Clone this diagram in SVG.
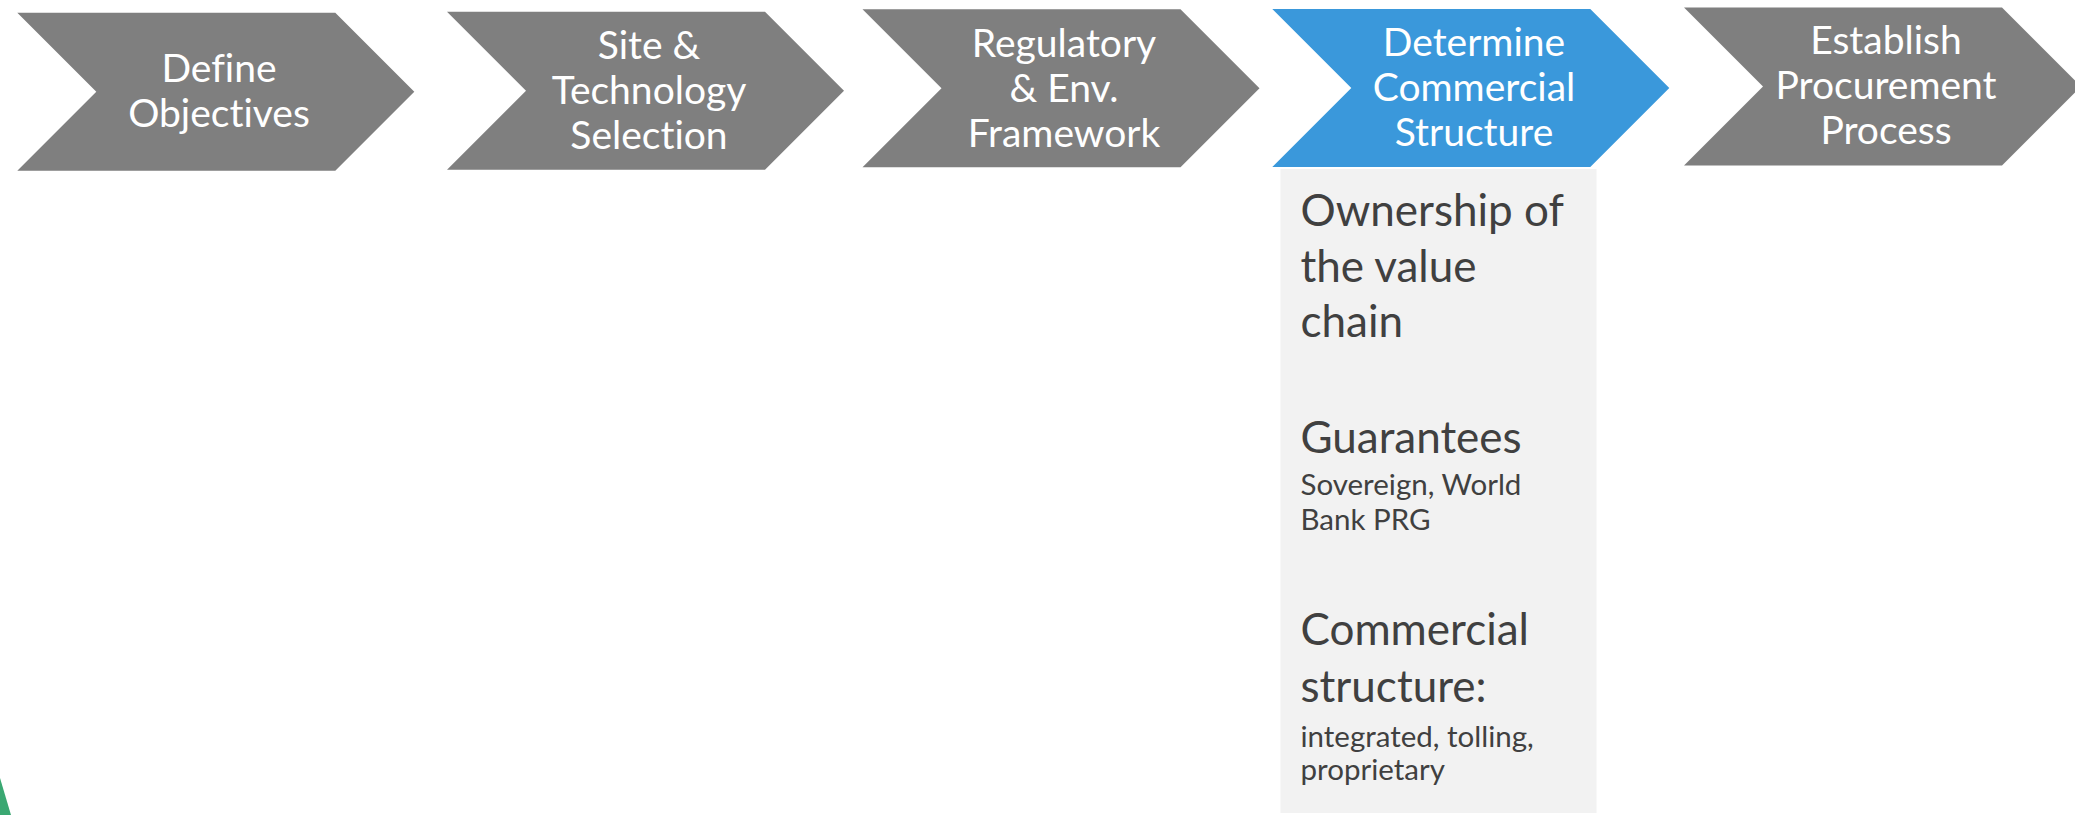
<svg xmlns="http://www.w3.org/2000/svg" width="2075" height="815" viewBox="0 0 2075 815">
<style>
.chev{fill:#7f7f7f}
.blue{fill:#3a98db}
text{font-variant-ligatures:none;font-feature-settings:"liga" 0,"clig" 0}
.ct{font-family:Lato,"Open Sans","Liberation Sans",sans-serif;font-size:39px;fill:#ffffff;text-anchor:middle}
.pt{font-family:Lato,"Open Sans","Liberation Sans",sans-serif;fill:#404040}
.big{font-size:44px}
.small{font-size:29.5px}
</style>
<rect width="2075" height="815" fill="#ffffff"/>
<g id="step1">
<polygon class="chev" points="17.3,12.7 335.3,12.7 414.3,91.7 335.3,170.7 17.3,170.7 96.3,91.7"/>
<text class="ct" x="219" y="82">Define</text>
<text class="ct" x="219" y="127">Objectives</text>
</g>
<g id="step2">
<polygon class="chev" points="447,11.7 765,11.7 844,90.7 765,169.7 447,169.7 526,90.7"/>
<text class="ct" x="649" y="59">Site &amp;</text>
<text class="ct" x="649" y="104">Technology</text>
<text class="ct" x="649" y="149">Selection</text>
</g>
<g id="step3">
<polygon class="chev" points="862.5,9.3 1180.5,9.3 1259.5,88.3 1180.5,167.3 862.5,167.3 941.5,88.3"/>
<text class="ct" x="1064" y="56.5">Regulatory</text>
<text class="ct" x="1064" y="101.5">&amp; Env.</text>
<text class="ct" x="1064" y="146.5">Framework</text>
</g>
<g id="step4">
<polygon class="blue" points="1272.3,9 1590.3,9 1669.3,88 1590.3,167 1272.3,167 1351.3,88"/>
<text class="ct" x="1474" y="56">Determine</text>
<text class="ct" x="1474" y="101">Commercial</text>
<text class="ct" x="1474" y="146">Structure</text>
</g>
<g id="step5">
<polygon class="chev" points="1684,7.5 2002,7.5 2081,86.5 2002,165.5 1684,165.5 1763,86.5"/>
<text class="ct" x="1886" y="54">Establish</text>
<text class="ct" x="1886" y="99">Procurement</text>
<text class="ct" x="1886" y="144">Process</text>
</g>
<g id="details">
<rect x="1280.5" y="169" width="316" height="644" fill="#f2f2f2"/>
<text class="pt big" x="1300.5" y="226">Ownership of</text>
<text class="pt big" x="1300.5" y="282">the value</text>
<text class="pt big" x="1300.5" y="337">chain</text>
<text class="pt big" x="1300.5" y="453">Guarantees</text>
<text class="pt small" x="1300.5" y="495">Sovereign, World</text>
<text class="pt small" x="1300.5" y="530">Bank PRG</text>
<text class="pt big" x="1300.5" y="645">Commercial</text>
<text class="pt big" x="1300.5" y="702">structure:</text>
<text class="pt small" x="1300.5" y="746.5">integrated, tolling,</text>
<text class="pt small" x="1300.5" y="780">proprietary</text>
</g>
<g id="connectors"></g>
<polygon points="0,778 11,815 0,815" fill="#3aa872"/>
</svg>
